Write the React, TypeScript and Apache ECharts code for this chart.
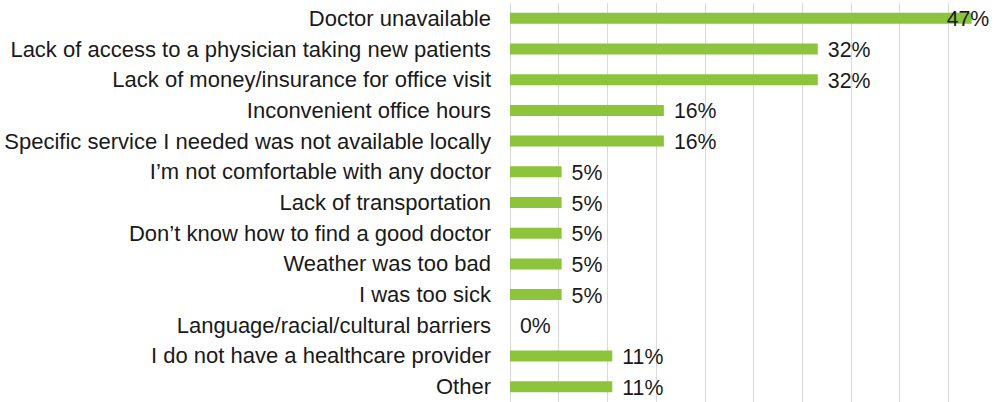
import React, { useEffect, useRef } from "react";
import * as echarts from "echarts";

const categories: string[] = [
  "Doctor unavailable",
  "Lack of access to a physician taking new patients",
  "Lack of money/insurance for office visit",
  "Inconvenient office hours",
  "Specific service I needed was not available locally",
  "I\u2019m not comfortable with any doctor",
  "Lack of transportation",
  "Don\u2019t know how to find a good doctor",
  "Weather was too bad",
  "I was too sick",
  "Language/racial/cultural barriers",
  "I do not have a healthcare provider",
  "Other",
];

const values: number[] = [47.4, 31.6, 31.6, 15.8, 15.8, 5.3, 5.3, 5.3, 5.3, 5.3, 0, 10.5, 10.5];

const axisMin = 0;
const axisMax = 50;
const axisInterval = 5;

export default function App() {
  const ref = useRef<HTMLDivElement>(null);
  useEffect(() => {
    if (!ref.current) return;
    const chart = echarts.init(ref.current, undefined, { renderer: "svg" });
    const font = "'Liberation Sans', Arial, Helvetica, sans-serif";
    const data = values.map((v) =>
      v > 45
        ? { value: v, label: { offset: [-35, 1] } }
        : { value: v }
    );
    chart.setOption({
      animation: false,
      backgroundColor: "#ffffff",
      grid: { left: 510, top: 3, width: 491, height: 403, containLabel: false },
      xAxis: {
        type: "value",
        min: axisMin,
        max: axisMax,
        interval: axisInterval,
        axisLabel: { show: false },
        axisLine: { show: false },
        axisTick: { show: false },
        splitLine: { show: true, lineStyle: { color: "#d9d9d9", width: 1 } },
      },
      yAxis: {
        type: "category",
        inverse: true,
        data: categories,
        axisLine: { show: false },
        axisTick: { show: false },
        axisLabel: {
          margin: 19,
          color: "#1a1a1a",
          fontSize: 22,
          fontFamily: font,
        },
      },
      series: [
        {
          type: "bar",
          data,
          barWidth: 11,
          itemStyle: { color: "#8cc43c" },
          label: {
            show: true,
            position: "right",
            distance: 10,
            offset: [0, 1],
            color: "#1a1a1a",
            fontSize: 21.3,
            fontFamily: font,
            formatter: (p: any) => Math.round(p.value) + "%",
          },
        },
      ],
    });
    return () => chart.dispose();
  }, []);
  return <div ref={ref} style={{ width: 997, height: 402, position: "absolute", left: 0, top: 0 }} />;
}
